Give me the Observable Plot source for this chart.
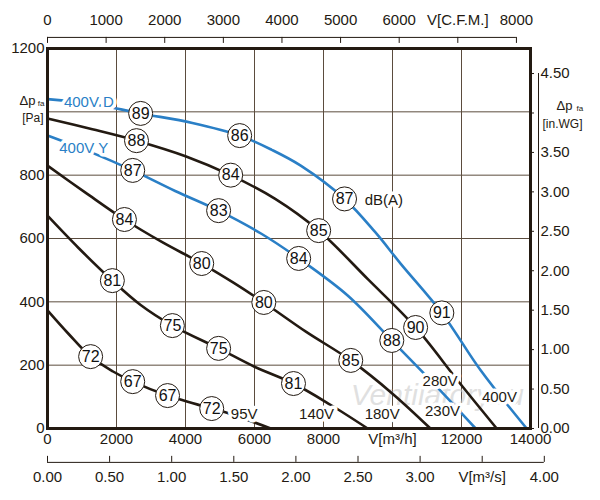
<!DOCTYPE html>
<html><head><meta charset="utf-8">
<script src="https://cdn.jsdelivr.net/npm/d3@7"></script>
<script src="https://cdn.jsdelivr.net/npm/@observablehq/plot@0.6"></script>
<style>body{margin:0;background:#fff;font-family:"Liberation Sans",Arial,sans-serif}</style>
</head><body><div id="chart"></div>
<script>
// curves: [m3/h, Pa]
const curve400D = [[0,1040],[1300,1025],[2700,995],[4200,965],[5570,925],[6500,880],[7340,830],[8610,725],[9500,620],[10240,520],[11430,365],[12560,183],[13890,0]];
const curve230 = [[0,925],[1200,875],[2470,815],[3700,750],[4960,688],[6200,615],[7280,537],[8700,420],[9980,278],[11300,130],[12410,0]];
const curve280 = [[0,979],[1300,945],[2580,909],[4000,860],[5310,800],[6600,725],[7860,625],[9300,470],[10670,319],[11900,150],[13020,0]];
const curve180 = [[0,830],[1100,745],[2230,660],[3300,590],[4470,521],[5400,460],[6270,398],[7500,305],[8790,215],[10000,110],[11100,0]];
const curve140 = [[0,672],[900,570],[1880,467],[2700,390],[3620,325],[4960,253],[6000,195],[7130,142],[8200,75],[9280,0]];
const curve95 = [[0,373],[600,300],[1250,227],[1900,180],[2470,148],[3480,104],[4760,63],[5200,50],[6470,0]];

const curves = [
  {name: "400V D", color: "#2a7fc6", pts: curve400D},
  {name: "230V", color: "#2a7fc6", pts: curve230},
  {name: "280V", color: "#231a12", pts: curve280},
  {name: "180V", color: "#231a12", pts: curve180},
  {name: "140V", color: "#231a12", pts: curve140},
  {name: "95V", color: "#231a12", pts: curve95}
];

// noise level markers dB(A): [m3/h, Pa, value]
const dbMarks = [
  [2700,995,89],[5570,925,86],[8610,725,87],[11430,365,91],
  [2470,815,87],[4960,688,83],[7280,537,84],[9980,278,88],
  [2580,909,88],[5310,800,84],[7860,625,85],[10670,319,90],
  [2230,660,84],[4470,521,80],[6270,398,80],[8790,215,85],
  [1880,467,81],[3620,325,75],[4960,253,75],[7130,142,81],
  [1250,227,72],[2470,148,67],[3480,104,67],[4760,63,72]
];

// curve name labels: [m3/h, Pa, text, color]
const curveLabels = [
  [1200,1030,"400V D","#2a7fc6"],[1050,885,"400V Y","#2a7fc6"],
  [9750,722,"dB(A)","#231a12"],
  [11380,150,"280V","#231a12"],[11450,55,"230V","#231a12"],[13100,100,"400V","#231a12"],
  [9700,45,"180V","#231a12"],[7800,45,"140V","#231a12"],[5700,45,"95V","#231a12"]
];

const yTicks = [0,200,400,600,800,1200];
const yGrid = [200,400,600,800,1000];
const xTicks = [0,2000,4000,6000,8000,12000,14000];
const xGrid = [2000,4000,6000,8000,10000,12000];
const cfmTicks = [0,1000,2000,3000,4000,5000,6000,7000,8000];
const m3sTicks = [0,0.5,1,1.5,2,2.5,3,3.5,4];
const inwgTicks = [0,0.5,1,1.5,2,2.5,3,3.5,4,4.5];

const CFM = 1.699, M3S = 3600, INWG = 249.09;
const ink = "#231a12";
const fmt2 = d => d.toFixed(2);

const chart = Plot.plot({
  width: 600, height: 500,
  marginLeft: 47, marginRight: 70, marginTop: 48, marginBottom: 72,
  style: {fontFamily: "Liberation Sans, Arial, sans-serif", fontSize: "14px", color: ink},
  x: {type: "linear", domain: [0,14000], axis: null},
  y: {type: "linear", domain: [0,1200], axis: null},
  marks: [
    Plot.ruleX(xGrid, {stroke: "#5b4c3e", strokeWidth: 1}),
    Plot.ruleY(yGrid, {stroke: "#5b4c3e", strokeWidth: 1}),
    Plot.text(["Ventilatory.ru"], {x: 11300, y: 105, text: d => d, fill: "#ccc", fontSize: 30, fontStyle: "italic", fillOpacity: 0.6}),
    ...curves.map(c => Plot.line(c.pts, {x: d => d[0], y: d => d[1], stroke: c.color, strokeWidth: 2.6, curve: "catmull-rom"})),
    Plot.frame({stroke: ink, strokeWidth: 3}),
    // left axis
    Plot.text(yTicks, {x: 0, y: d => d, text: d => String(d), textAnchor: "end", dx: -3, fontSize: 15}),
    Plot.text(["Δp"], {x: 0, y: 1035, text: d => d, textAnchor: "end", dx: -12, fontSize: 13}),
    Plot.text(["fa"], {x: 0, y: 1025, text: d => d, textAnchor: "end", dx: -3, fontSize: 8}),
    Plot.text(["[Pa]"], {x: 0, y: 980, text: d => d, textAnchor: "end", dx: -4, fontSize: 12}),
    // bottom axis
    Plot.text(xTicks, {x: d => d, y: 0, text: d => String(d), dy: 11, fontSize: 15}),
    Plot.text(["V[m³/h]"], {x: 10000, y: 0, text: d => d, dy: 11, fontSize: 15}),
    // secondary bottom axis (m3/s)
    Plot.ruleY([-107], {x1: 0, x2: 4 * M3S, stroke: ink, strokeWidth: 1}),
    Plot.ruleX(m3sTicks, {x: d => d * M3S, y1: -107, y2: -88, stroke: ink, strokeWidth: 1}),
    Plot.text(m3sTicks, {x: d => d * M3S, y: -155, text: d => d === 3.5 ? "V[m³/s]" : fmt2(d), fontSize: 15}),
    // top axis (CFM)
    Plot.ruleY([1235], {x1: 0, x2: 8000 * CFM, stroke: ink, strokeWidth: 1}),
    Plot.ruleX(cfmTicks, {x: d => d * CFM, y1: 1235, y2: 1216, stroke: ink, strokeWidth: 1}),
    Plot.text(cfmTicks, {x: d => d * CFM, y: 1290, text: d => d === 7000 ? "V[C.F.M.]" : String(d), fontSize: 15}),
    // right axis (in.WG)
    Plot.ruleX([14000], {y1: 0, y2: 4.5 * INWG, stroke: ink, strokeWidth: 1, dx: 8}),
    Plot.ruleY(inwgTicks, {x1: 14000, x2: 14000, y: d => d * INWG, stroke: ink, strokeWidth: 1, dx: 4, insetLeft: -4}),
    Plot.text(inwgTicks.filter(d => d !== 4), {x: 14000, y: d => d * INWG, text: fmt2, textAnchor: "start", dx: 10, fontSize: 15}),
    Plot.text(["Δp"], {x: 14000, y: 1020, text: d => d, textAnchor: "start", dx: 26, fontSize: 13}),
    Plot.text(["fa"], {x: 14000, y: 1010, text: d => d, textAnchor: "start", dx: 46, fontSize: 8}),
    Plot.text(["[in.WG]"], {x: 14000, y: 960, text: d => d, textAnchor: "start", dx: 12, fontSize: 12}),
    // labels
    Plot.text(curveLabels, {x: d => d[0], y: d => d[1], text: d => d[2], fill: d => d[3], stroke: "white", strokeWidth: 7, paintOrder: "stroke", fontSize: 15}),
    Plot.dot(dbMarks, {x: d => d[0], y: d => d[1], r: 12, fill: "white", stroke: ink, strokeWidth: 1}),
    Plot.text(dbMarks, {x: d => d[0], y: d => d[1], text: d => String(d[2]), fontSize: 16, fill: "#111"})
  ]
});
document.getElementById("chart").append(chart);
</script></body></html>
